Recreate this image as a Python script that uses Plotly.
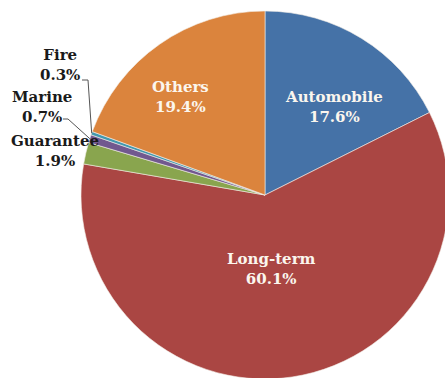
import math
import plotly.graph_objects as go

# Share of premiums by line of business (%), clockwise from 12 o'clock
categories = ["Automobile", "Long-term", "Guarantee", "Marine", "Fire", "Others"]
shares = [17.6, 60.1, 1.9, 0.7, 0.3, 19.4]
colors = ["#4572A7", "#AA4643", "#89A54E", "#71588F", "#4198AF", "#DB843D"]

W, H = 455, 385
CX, CY, R = 265, 195, 184  # pie centre and radius in pixels

font_family = "DejaVu Serif"

fig = go.Figure(
    go.Pie(
        labels=categories,
        values=shares,
        sort=False,
        direction="clockwise",
        rotation=0,
        marker=dict(colors=colors, line=dict(color="#f4eee8", width=0.6)),
        textinfo="none",
        showlegend=False,
        hoverinfo="label+percent",
        domain=dict(x=[(CX - R) / W, (CX + R) / W], y=[(H - CY - R) / H, (H - CY + R) / H]),
    )
)

# Label placement (pixel centres) and colours
label_pos = {
    "Automobile": (334, 107),
    "Long-term": (271, 269),
    "Others": (180, 97),
    "Fire": (60, 65),
    "Marine": (42, 107),
    "Guarantee": (55, 151),
}
inside = {"Automobile", "Long-term", "Others"}
# leader lines for the thinnest slices: start point and elbow
leader = {"Fire": [(82, 80), (88, 80)], "Marine": [(63, 119), (68, 119)]}

annotations = []
shapes = []
cum = 0.0
total = sum(shares)
for name, v in zip(categories, shares):
    mid = (cum + v / 2) / total * 2 * math.pi
    cum += v
    x, y = label_pos[name]
    annotations.append(dict(
        x=x / W, y=1 - y / H, xref="paper", yref="paper", showarrow=False,
        xanchor="center", yanchor="middle",
        text=f"<b>{name}</b><br><b>{v:.1f}%</b>", align="center",
        font=dict(family=font_family, size=15,
                  color="#fbf6ee" if name in inside else "#1a1a1a"),
    ))
    if name in leader:
        ex = CX + R * math.sin(mid)
        ey = CY - R * math.cos(mid)
        pts = leader[name] + [(ex, ey)]
        for (x0, y0), (x1, y1) in zip(pts[:-1], pts[1:]):
            shapes.append(dict(type="line", xref="paper", yref="paper",
                               x0=x0 / W, y0=1 - y0 / H, x1=x1 / W, y1=1 - y1 / H,
                               line=dict(color="#555555", width=1)))

fig.update_layout(
    width=W, height=H,
    margin=dict(l=0, r=0, t=0, b=0),
    paper_bgcolor="white",
    annotations=annotations,
    shapes=shapes,
)

fig.write_html("out.html", post_script="document.body.style.overflow='hidden';document.body.style.margin='0';")
